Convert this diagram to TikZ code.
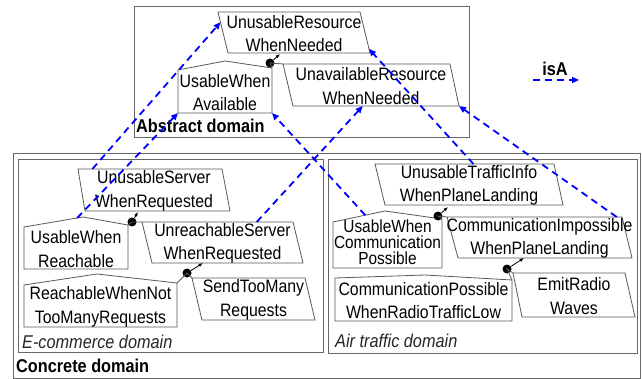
\documentclass[tikz,border=0pt]{standalone}
\usepackage{fontspec}
\setmainfont{Liberation Sans}
\newfontfamily\nodefont[FakeStretch=0.88]{Liberation Sans}
\usetikzlibrary{calc,arrows.meta}
\newcommand\mypgram[8]{%
  \coordinate (#1-tl) at (#2,#4); \coordinate (#1-tr) at (#3,#4);
  \coordinate (#1-bl) at (#5,#7); \coordinate (#1-br) at (#6,#7);
  \draw[shp] (#1-tl) -- (#1-tr) -- (#1-br) -- (#1-bl) -- cycle;
  \node[txt] (#1) at ($(#1-tl)!0.5!(#1-br)+(0,1)$) {#8};}
\newcommand\myhouse[9]{%
  \coordinate (#1-tl) at (#2,#4); \coordinate (#1-tr) at (#3,#5);
  \coordinate (#1-p) at (#6,#7);
  \coordinate (#1-bl) at (#2,#8); \coordinate (#1-br) at (#3,#8);
  \draw[shp] (#1-bl) -- (#1-tl) -- (#1-p) -- (#1-tr) -- (#1-br) -- cycle;
  \node[txt] (#1) at ($(#1-tl)!0.5!(#1-br)+(0,1)$) {#9};}
\begin{document}
\begin{tikzpicture}[x=1pt,y=-1pt,
  shp/.style={draw=black!65,line width=0.8pt},
  frame/.style={draw=black!60,line width=0.8pt},
  txt/.style={inner sep=0pt,align=center,font=\nodefont\fontsize{18}{23.5}\selectfont},
  dlabel/.style={inner sep=0pt,anchor=west,font=\nodefont\fontsize{18.5}{20}\selectfont\bfseries},
  ilabel/.style={inner sep=0pt,anchor=west,font=\nodefont\fontsize{18.5}{20}\selectfont\itshape,text=black!85},
  isa/.style={draw=blue,line width=1.8pt,dash pattern=on 7pt off 5pt,-{Triangle[length=7pt,width=6pt]}},
  anddot/.style={circle,fill=black,inner sep=0pt,minimum size=9pt},
  andline/.style={draw=black!65,line width=0.8pt},
  andarrow/.style={draw=black,line width=0.8pt,-{Latex[length=4.5pt,width=3.5pt]}}]
\useasboundingbox (0,0) rectangle (642,379);
\fill[white] (0,0) rectangle (642,379);

% frames
\draw[frame] (134,6) rectangle (469,137);
\draw[frame] (13,153) rectangle (640,378);
\draw[frame] (18,159) rectangle (323,352);
\draw[frame] (328,159) rectangle (637,353);
\node[dlabel] (absl) at (136,126) {Abstract domain};
\node[dlabel] (conl) at (16,366) {Concrete domain};
\node[ilabel] (ecol) at (22,342) {E-commerce domain};
\node[ilabel] (airl) at (335,341) {Air traffic domain};

% abstract domain
\mypgram{UR}{218}{360}{12}{228}{370}{53}{UnusableResource\\WhenNeeded}
\mypgram{UA}{283}{450}{64}{293}{459}{106}{UnavailableResource\\WhenNeeded}
\myhouse{UWA}{178}{272}{70}{68}{225}{61}{113}{UsableWhen\\Available}
\node[anddot] (dA) at (270,63) {};
\draw[andline] (UWA-tr) -- (dA.center) -- (UA-tl);
\coordinate (dAe) at (280,54);
\draw[andarrow] (dA) -- (dAe);

% e-commerce domain
\mypgram{US}{78}{222}{169}{85}{230}{211}{UnusableServer\\WhenRequested}
\myhouse{UWR}{24}{128}{227}{225}{83}{217}{269}{UsableWhen\\Reachable}
\mypgram{UnS}{142}{293}{222}{152}{303}{263}{UnreachableServer\\WhenRequested}
\node[anddot] (dE1) at (132,222) {};
\draw[andline] (UWR-tr) -- (dE1.center) -- (UnS-tl);
\coordinate (dE1e) at (138,212);
\draw[andarrow] (dE1) -- (dE1e);
\myhouse{RWN}{24}{177}{285}{283}{97}{274}{327}{ReachableWhenNot\\TooManyRequests}
\mypgram{STM}{192}{305}{278}{202}{315}{320}{SendTooMany\\Requests}
\node[anddot] (dE2) at (187,273) {};
\draw[andline] (RWN-tr) -- (dE2.center) -- (STM-tl);
\coordinate (dE2e) at (203,263);
\draw[andarrow] (dE2) -- (dE2e);

% air traffic domain
\mypgram{UT}{375}{554}{164}{385}{563}{205}{UnusableTrafficInfo\\WhenPlaneLanding}
\coordinate (UWC-tl) at (333,222); \coordinate (UWC-tr) at (442,219);
\coordinate (UWC-p) at (385,211);
\coordinate (UWC-bl) at (333,268); \coordinate (UWC-br) at (442,268);
\draw[shp] (UWC-bl) -- (UWC-tl) -- (UWC-p) -- (UWC-tr) -- (UWC-br) -- cycle;
\node[txt,font=\nodefont\fontsize{17.5}{16}\selectfont] (UWC) at (387.5,242.5) {UsableWhen\\Communication\\Possible};
\mypgram{CI}{447}{622}{217}{458}{632}{258}{CommunicationImpossible\\WhenPlaneLanding}
\node[anddot] (dT1) at (438,216) {};
\draw[andline] (UWC-tr) -- (dT1.center) -- (CI-tl);
\coordinate (dT1e) at (448,207);
\draw[andarrow] (dT1) -- (dT1e);
\myhouse{CP}{335}{512}{278}{280}{425}{275}{321}{CommunicationPossible\\WhenRadioTrafficLow}
\mypgram{ER}{513}{625}{273}{522}{635}{317}{EmitRadio\\Waves}
\node[anddot] (dT2) at (507,269) {};
\draw[andline] (CP-tr) -- (dT2.center) -- (ER-tl);
\coordinate (dT2e) at (524,258);
\draw[andarrow] (dT2) -- (dT2e);

% isA links
\draw[isa] ($(UWR-tl)!0.9!(UWR-p)$) -- (UWA-bl);
\draw[isa] ($(US-tl)!0.1!(US-tr)$) -- ($(UR-tl)!0.25!(UR-bl)$);
\draw[isa] ($(UnS-tl)!0.76!(UnS-tr)$) -- ($(UA-bl)!0.42!(UA-br)$);
\draw[isa] ($(UWC-p)!0.38!(UWC-tl)$) -- (UWA-br);
\draw[isa] ($(UT-tl)!0.55!(UT-tr)$) -- ($(UR-br)!0.1!(UR-tr)$);
\draw[isa] ($(CI-tl)!0.97!(CI-tr)$) -- (UA-br);

% legend
\node[dlabel,anchor=center] (isAl) at (555,69) {isA};
\coordinate (lgA) at (533,80);
\coordinate (lgB) at (579,80);
\draw[isa] (lgA) -- (lgB);
\end{tikzpicture}
\end{document}
